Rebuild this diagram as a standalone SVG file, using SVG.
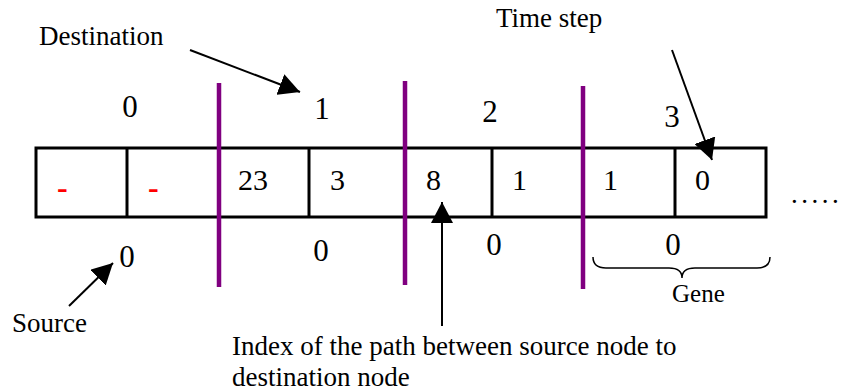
<svg xmlns="http://www.w3.org/2000/svg" width="842" height="392" viewBox="0 0 842 392">
<style>
text{font-family:"Liberation Serif","Times New Roman",serif;fill:#000}
.lbl{font-size:27px}
.num{font-size:31px;text-anchor:middle}
.cell{font-size:30px}
.dash{font-size:32px;fill:#ff0000;font-weight:bold}
.sep{stroke:#800080;stroke-width:4.5}
.box{fill:#fff;stroke:#000;stroke-width:3}
.div{stroke:#000;stroke-width:3}
.arr{stroke:#000;stroke-width:2;fill:none;marker-end:url(#ah)}
</style>
<defs>
<marker id="ah" viewBox="0 0 21 22" refX="21" refY="11" markerWidth="21" markerHeight="22" orient="auto" markerUnits="userSpaceOnUse">
<path d="M0,0 L21,11 L0,22 z" fill="#000"/>
</marker>
</defs>
<rect width="842" height="392" fill="#fff"/>
<g id="chromosome">
<rect class="box" x="36" y="148" width="730" height="69"/>
<line class="div" x1="127" y1="148" x2="127" y2="217"/>
<line class="div" x1="309" y1="148" x2="309" y2="217"/>
<line class="div" x1="492" y1="148" x2="492" y2="217"/>
<line class="div" x1="675" y1="148" x2="675" y2="217"/>
</g>
<g id="separators">
<line class="sep" x1="219" y1="83" x2="219" y2="287"/>
<line class="sep" x1="405" y1="81" x2="405" y2="285"/>
<line class="sep" x1="583" y1="86" x2="583" y2="289"/>
</g>
<g id="cells">
<text class="dash" x="57" y="198">-</text>
<text class="dash" x="148" y="198">-</text>
<text class="cell" x="238" y="190">23</text>
<text class="cell" x="330" y="190">3</text>
<text class="cell" x="426" y="190">8</text>
<text class="cell" x="512" y="190">1</text>
<text class="cell" x="603" y="190">1</text>
<text class="cell" x="695" y="190">0</text>
</g>
<g id="dest-numbers">
<text class="num" x="130" y="117">0</text>
<text class="num" x="322" y="119">1</text>
<text class="num" x="490" y="122">2</text>
<text class="num" x="672" y="127">3</text>
</g>
<g id="source-numbers">
<text class="num" x="127" y="267">0</text>
<text class="num" x="321" y="261">0</text>
<text class="num" x="494" y="255">0</text>
<text class="num" x="673" y="255">0</text>
</g>
<g id="labels">
<text class="lbl" x="39" y="45">Destination</text>
<text class="lbl" x="496" y="27">Time step</text>
<text class="lbl" x="12" y="332">Source</text>
<text class="lbl" x="672" y="302" style="font-size:25px">Gene</text>
<text class="lbl" x="232" y="355">Index of the path between source node to</text>
<text class="lbl" x="232" y="386">destination node</text>
<text class="lbl" x="791" y="203" style="letter-spacing:3.5px">.....</text>
</g>
<g id="connectors">
<line class="arr" x1="190" y1="50" x2="300" y2="92"/>
<line class="arr" x1="672" y1="50" x2="712" y2="160"/>
<line class="arr" x1="69" y1="306" x2="113" y2="263"/>
<line class="arr" x1="442" y1="326" x2="442" y2="202"/>
<path d="M593,257 Q593,268 606,268 L669,268 Q682,268 682,278 Q682,268 695,268 L757,268 Q770,268 770,257" fill="none" stroke="#000" stroke-width="1.5"/>
</g>
</svg>
